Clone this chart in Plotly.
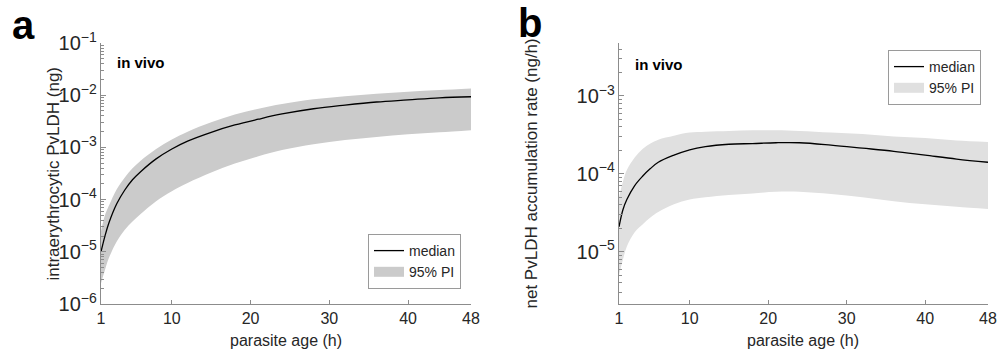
import plotly.graph_objects as go

# ---------------- data ----------------
age_h = [1, 1.5, 2, 3, 4, 5, 6, 8, 10, 12, 15, 18, 21, 24, 28, 32, 36, 40, 44, 48]

# panel a: intraerythrocytic PvLDH (ng)
a_median = [1.0e-5, 2.0e-5, 3.55e-5, 8.3e-5, 1.51e-4, 2.40e-4, 3.39e-4, 6.03e-4, 9.33e-4, 1.32e-3,
            1.95e-3, 2.69e-3, 3.47e-3, 4.37e-3, 5.50e-3, 6.46e-3, 7.41e-3, 8.13e-3, 8.91e-3, 9.33e-3]
a_upper = [2.51e-5, 5.01e-5, 7.59e-5, 1.58e-4, 2.63e-4, 3.98e-4, 5.50e-4, 9.33e-4, 1.41e-3, 2.00e-3,
           3.02e-3, 4.27e-3, 5.50e-3, 6.76e-3, 8.32e-3, 9.55e-3, 1.07e-2, 1.17e-2, 1.26e-2, 1.35e-2]
a_lower = [2.51e-6, 4.47e-6, 7.59e-6, 1.58e-5, 2.63e-5, 3.80e-5, 5.25e-5, 9.33e-5, 1.45e-4, 2.09e-4,
           3.31e-4, 4.90e-4, 6.76e-4, 8.91e-4, 1.15e-3, 1.38e-3, 1.58e-3, 1.78e-3, 1.95e-3, 2.14e-3]

# panel b: net PvLDH accumulation rate (ng/h)
b_median = [2.09e-5, 3.47e-5, 4.68e-5, 7.08e-5, 9.33e-5, 1.17e-4, 1.41e-4, 1.74e-4, 2.04e-4, 2.24e-4,
            2.40e-4, 2.45e-4, 2.51e-4, 2.51e-4, 2.34e-4, 2.14e-4, 1.95e-4, 1.74e-4, 1.55e-4, 1.41e-4]
b_upper = [5.01e-5, 7.94e-5, 1.12e-4, 1.62e-4, 2.09e-4, 2.45e-4, 2.75e-4, 3.09e-4, 3.39e-4, 3.47e-4,
           3.55e-4, 3.63e-4, 3.63e-4, 3.55e-4, 3.39e-4, 3.24e-4, 3.02e-4, 2.88e-4, 2.69e-4, 2.57e-4]
b_lower = [5.01e-6, 7.94e-6, 1.17e-5, 1.78e-5, 2.24e-5, 2.75e-5, 3.24e-5, 4.07e-5, 4.68e-5, 5.01e-5,
           5.37e-5, 5.62e-5, 5.89e-5, 5.89e-5, 5.50e-5, 5.01e-5, 4.47e-5, 4.07e-5, 3.80e-5, 3.55e-5]

x_ticks = [1, 10, 20, 30, 40, 48]

# ---------------- figure ----------------
W, H = 1000, 352
FONT = "Liberation Sans, Arial, Helvetica, sans-serif"
AXC = "#8c8c8c"
TXC = "#262626"

fig = go.Figure()


def add_panel(xa, ya, med, up, lo, band_color, legend):
    fig.add_trace(go.Scatter(x=age_h, y=lo, mode="lines", line=dict(width=0, shape="spline"),
                             xaxis=xa, yaxis=ya, showlegend=False, hoverinfo="skip"))
    fig.add_trace(go.Scatter(x=age_h, y=up, mode="lines", line=dict(width=0, shape="spline"),
                             fill="tonexty", fillcolor=band_color, name="95% PI", showlegend=False,
                             xaxis=xa, yaxis=ya))
    fig.add_trace(go.Scatter(x=age_h, y=med, mode="lines", line=dict(color="black", width=1.3, shape="spline"),
                             name="median", xaxis=xa, yaxis=ya, legend=legend, legendrank=1))
    # legend entry for the band (rectangular swatch)
    fig.add_trace(go.Scatter(x=[None], y=[None], mode="lines", line=dict(color=band_color, width=13),
                             name="95% PI", xaxis=xa, yaxis=ya, legend=legend, legendrank=2,
                             hoverinfo="skip"))


add_panel("x", "y", a_median, a_upper, a_lower, "#cbcbcb", "legend")
add_panel("x2", "y2", b_median, b_upper, b_lower, "#e0e0e0", "legend2")

y_bot = 1 - 304 / H
y_top = 1 - 43 / H

xcommon = dict(range=[1, 48], tickvals=x_ticks, ticks="inside", ticklen=4, tickcolor=AXC,
               showline=True, linecolor=AXC, linewidth=1, showgrid=False, zeroline=False,
               automargin=False,
               tickfont=dict(size=16, color=TXC, family=FONT))
ycommon = dict(type="log", dtick=1, exponentformat="power", ticks="inside", ticklen=5, tickcolor=AXC,
               showline=True, linecolor=AXC, linewidth=1, showgrid=False, zeroline=False,
               automargin=False,
               minor=dict(ticks="inside", ticklen=3, tickcolor=AXC, dtick="D1", showgrid=False),
               tickfont=dict(size=16, color=TXC, family=FONT))

legcommon = dict(bgcolor="white", bordercolor="#9a9a9a", borderwidth=1, traceorder="normal",
                 font=dict(size=14, color=TXC, family=FONT), tracegroupgap=0)

fig.update_layout(
    width=W, height=H,
    margin=dict(l=0, r=0, t=0, b=0, pad=0, autoexpand=False),
    paper_bgcolor="white", plot_bgcolor="white",
    font=dict(family=FONT, color=TXC, size=15),
    xaxis=dict(domain=[101 / W, 471 / W], anchor="y", **xcommon),
    yaxis=dict(domain=[y_bot, y_top], anchor="x", range=[-6, -1], **ycommon),
    xaxis2=dict(domain=[619 / W, 988 / W], anchor="y2", **xcommon),
    yaxis2=dict(domain=[y_bot, y_top], anchor="x2", range=[-5.67, -2.32], **ycommon),
    legend=dict(x=461 / W, xanchor="right", y=1 - 289 / H, yanchor="bottom", **legcommon),
    legend2=dict(x=981 / W, xanchor="right", y=1 - 50 / H, yanchor="top", **legcommon),
    showlegend=True,
)

annots = [
    dict(text="<b>a</b>", x=10 / W, y=1 - 25 / H, xanchor="left", yanchor="middle", font=dict(size=40, color="black")),
    dict(text="<b>b</b>", x=516 / W, y=1 - 23 / H, xanchor="left", yanchor="middle", font=dict(size=40, color="black")),
    dict(text="<b>in vivo</b>", x=115 / W, y=1 - 62 / H, xanchor="left", yanchor="middle", font=dict(size=15, color="black")),
    dict(text="<b>in vivo</b>", x=633 / W, y=1 - 64 / H, xanchor="left", yanchor="middle", font=dict(size=15, color="black")),
    dict(text="parasite age (h)", x=286 / W, y=1 - 340 / H, xanchor="center", yanchor="middle", font=dict(size=16, color=TXC)),
    dict(text="parasite age (h)", x=803 / W, y=1 - 340 / H, xanchor="center", yanchor="middle", font=dict(size=16, color=TXC)),
    dict(text="intraerythrocytic PvLDH (ng)", x=53 / W, y=1 - 173.5 / H, xanchor="center", yanchor="middle",
         textangle=-90, font=dict(size=17, color=TXC)),
    dict(text="net PvLDH accumulation rate (ng/h)", x=531 / W, y=1 - 173.5 / H, xanchor="center", yanchor="middle",
         textangle=-90, font=dict(size=17, color=TXC)),
]
for a in annots:
    a.update(xref="paper", yref="paper", showarrow=False)
fig.update_layout(annotations=annots)

fig.write_html("out.html", config={"displayModeBar": False},
               post_script="document.body.style.margin='0';document.body.style.padding='0';")
